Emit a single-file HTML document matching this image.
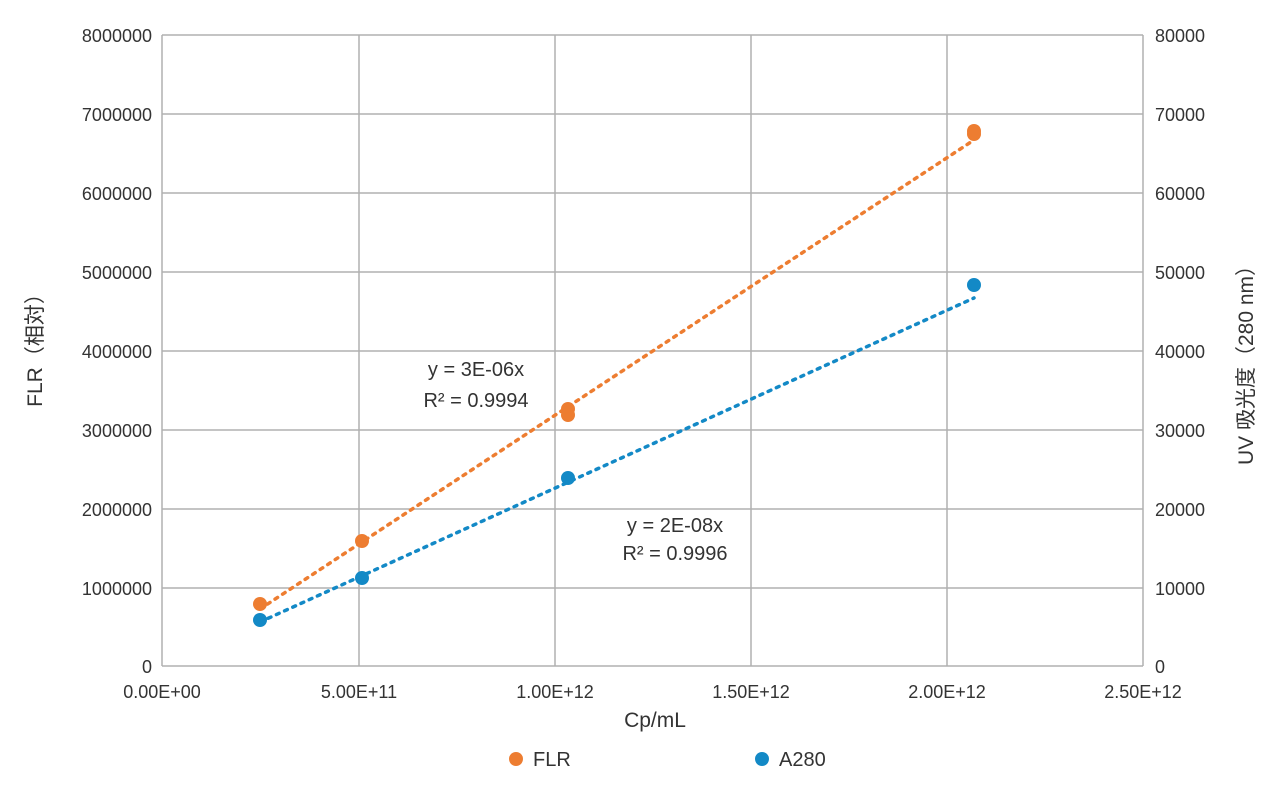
<!DOCTYPE html>
<html><head><meta charset="utf-8"><style>
body{margin:0;background:#fff;}
svg text{font-family:"Liberation Sans","Noto Sans CJK JP",sans-serif;fill:#333;}
</style></head><body>
<svg width="1280" height="798" xmlns="http://www.w3.org/2000/svg">
<g stroke="#b0b0b0" stroke-width="1.5">
<line x1="162" y1="35" x2="1143" y2="35"/><line x1="162" y1="114" x2="1143" y2="114"/>
<line x1="162" y1="193" x2="1143" y2="193"/><line x1="162" y1="272" x2="1143" y2="272"/>
<line x1="162" y1="351" x2="1143" y2="351"/><line x1="162" y1="430" x2="1143" y2="430"/>
<line x1="162" y1="509" x2="1143" y2="509"/><line x1="162" y1="588" x2="1143" y2="588"/>
<line x1="162" y1="666" x2="1143" y2="666"/>
<line x1="162" y1="35" x2="162" y2="666"/><line x1="359" y1="35" x2="359" y2="666"/>
<line x1="555" y1="35" x2="555" y2="666"/><line x1="751" y1="35" x2="751" y2="666"/>
<line x1="947" y1="35" x2="947" y2="666"/><line x1="1143" y1="35" x2="1143" y2="666"/>
</g>
<g font-size="18" text-anchor="end">
<text x="152" y="42">8000000</text><text x="152" y="121">7000000</text><text x="152" y="200">6000000</text>
<text x="152" y="279">5000000</text><text x="152" y="358">4000000</text><text x="152" y="437">3000000</text>
<text x="152" y="516">2000000</text><text x="152" y="595">1000000</text><text x="152" y="673">0</text>
</g>
<g font-size="18">
<text x="1155" y="42">80000</text><text x="1155" y="121">70000</text><text x="1155" y="200">60000</text>
<text x="1155" y="279">50000</text><text x="1155" y="358">40000</text><text x="1155" y="437">30000</text>
<text x="1155" y="516">20000</text><text x="1155" y="595">10000</text><text x="1155" y="673">0</text>
</g>
<g font-size="18" text-anchor="middle">
<text x="162" y="698">0.00E+00</text><text x="359" y="698">5.00E+11</text><text x="555" y="698">1.00E+12</text>
<text x="751" y="698">1.50E+12</text><text x="947" y="698">2.00E+12</text><text x="1143" y="698">2.50E+12</text>
<text x="655" y="727" font-size="21">Cp/mL</text>
</g>
<text transform="translate(42,345) rotate(-90)" font-size="21" text-anchor="middle">FLR（相対）</text>
<text transform="translate(1253,360) rotate(-90)" font-size="21" text-anchor="middle">UV 吸光度（280 nm）</text>
<line x1="260" y1="609" x2="974" y2="140" stroke="#ED7D31" stroke-width="3.5" stroke-dasharray="3,6" stroke-linecap="round"/>
<line x1="260" y1="622" x2="974" y2="298" stroke="#1389C6" stroke-width="3.5" stroke-dasharray="3,6" stroke-linecap="round"/>
<g fill="#ED7D31">
<circle cx="260" cy="604" r="7"/><circle cx="362" cy="541" r="7"/><circle cx="568" cy="409" r="7"/><circle cx="568" cy="415" r="7"/><circle cx="974" cy="131" r="7"/><circle cx="974" cy="134" r="7"/>
</g>
<g fill="#1389C6">
<circle cx="260" cy="620" r="7"/><circle cx="362" cy="578" r="7"/><circle cx="568" cy="478" r="7"/><circle cx="974" cy="285" r="7"/>
</g>
<g font-size="20" text-anchor="middle">
<text x="476" y="376">y = 3E-06x</text><text x="476" y="407">R² = 0.9994</text>
<text x="675" y="532">y = 2E-08x</text><text x="675" y="560">R² = 0.9996</text>
</g>
<circle cx="516" cy="759" r="7" fill="#ED7D31"/><text x="533" y="766" font-size="20">FLR</text>
<circle cx="762" cy="759" r="7" fill="#1389C6"/><text x="779" y="766" font-size="20">A280</text>
</svg>
</body></html>
